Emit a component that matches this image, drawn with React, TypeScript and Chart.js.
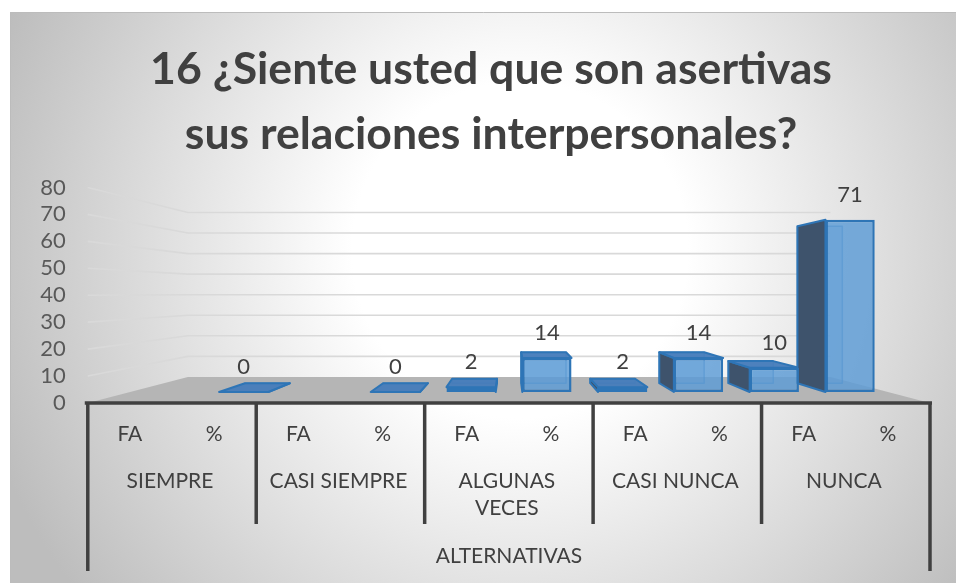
import React, { useEffect, useRef } from "react";
import { Chart, registerables } from "chart.js";

Chart.register(...registerables);

// ---------- data ----------
const TITLE_LINES = ["16 ¿Siente usted que son asertivas", "sus relaciones interpersonales?"];
const GROUP_LABELS: string[][] = [["SIEMPRE"], ["CASI SIEMPRE"], ["ALGUNAS", "VECES"], ["CASI NUNCA"], ["NUNCA"]];
const SUB_LABELS = ["FA", "%"];
const FA_VALUES: (number | null)[] = [null, null, 2, 2, 10];
const PCT_VALUES: (number | null)[] = [0, 0, 14, 14, 71];
const AXIS_TITLE = "ALTERNATIVAS";
const Y_TICKS = [0, 10, 20, 30, 40, 50, 60, 70, 80];

// ---------- layout / style ----------
const W = 956;
const H = 583;
const VX = 510; // vanishing point
const VY = 293;
const S_BAR = 0.9; // depth of bar front faces (chart area plane)
const S_BAR_BACK = 0.82; // depth of bar back faces
const S_WALL = 0.763; // depth of back wall
const FONT = "Lato, 'Open Sans', sans-serif";
const TEXT = "#404040";

function proj(x: number, y: number, s: number): [number, number] {
  const k = s / S_BAR;
  return [VX + (x - VX) * k, VY + (y - VY) * k];
}

function poly(ctx: CanvasRenderingContext2D, pts: [number, number][], fill?: string, stroke?: string, lw = 1) {
  ctx.beginPath();
  ctx.moveTo(pts[0][0], pts[0][1]);
  for (let i = 1; i < pts.length; i++) ctx.lineTo(pts[i][0], pts[i][1]);
  ctx.closePath();
  if (fill) {
    ctx.fillStyle = fill;
    ctx.fill();
  }
  if (stroke) {
    ctx.strokeStyle = stroke;
    ctx.lineWidth = lw;
    ctx.lineJoin = "round";
    ctx.stroke();
  }
}

const scene3d = {
  id: "scene3d",
  beforeDraw(chart: any) {
    const ctx: CanvasRenderingContext2D = chart.ctx;
    ctx.save();
    ctx.fillStyle = "#ffffff";
    ctx.fillRect(0, 0, W, H);
    const g = ctx.createRadialGradient(520, 250, 0, 520, 250, 560);
    g.addColorStop(0, "#ffffff");
    g.addColorStop(0.3, "#ffffff");
    g.addColorStop(1, "#bdbdbd");
    ctx.fillStyle = g;
    ctx.fillRect(10, 12, W - 10, H - 12);
    ctx.strokeStyle = "#bcbcbc";
    ctx.lineWidth = 1;
    ctx.beginPath();
    ctx.moveTo(10.5, H);
    ctx.lineTo(10.5, 12.5);
    ctx.lineTo(W, 12.5);
    ctx.stroke();

    // title, fitted to the original width
    ctx.fillStyle = TEXT;
    ctx.textAlign = "center";
    ctx.textBaseline = "middle";
    ctx.font = `bold 48px ${FONT}`;
    const w1 = ctx.measureText(TITLE_LINES[0]).width;
    const size = (48 * 682) / w1;
    ctx.font = `bold ${size.toFixed(2)}px ${FONT}`;
    ctx.fillText(TITLE_LINES[0], 491, 70);
    ctx.fillText(TITLE_LINES[1], 491, 135);
    ctx.restore();
  },
  beforeDatasetsDraw(chart: any) {
    const ctx: CanvasRenderingContext2D = chart.ctx;
    const a = chart.chartArea;
    const ys = chart.scales.y;
    const y0 = ys.getPixelForValue(0);
    ctx.save();
    // floor
    poly(ctx, [proj(a.left, y0, 1), proj(a.right, y0, 1), proj(a.right, y0, S_WALL), proj(a.left, y0, S_WALL)], "#b5b5b5");
    // grid lines: side wall + back wall
    ctx.strokeStyle = "#d9d9d9";
    ctx.lineWidth = 1.6;
    for (const v of Y_TICKS) {
      if (v === 0) continue;
      const yp = ys.getPixelForValue(v);
      const f = proj(a.left, yp, 1);
      const bl = proj(a.left, yp, S_WALL);
      const br = proj(a.right, yp, S_WALL);
      ctx.beginPath();
      ctx.moveTo(f[0], f[1]);
      ctx.lineTo(bl[0], bl[1]);
      ctx.lineTo(br[0], br[1]);
      ctx.stroke();
    }
    // 3D faces of bars
    const meta = chart.getDatasetMeta(0);
    const data = chart.data.datasets[0].data;
    meta.data.forEach((el: any, i: number) => {
      if (data[i] == null) return;
      const p = el.getProps(["x", "y", "base", "width"], true);
      const xl = p.x - p.width / 2;
      const xr = p.x + p.width / 2;
      const yt = Math.min(p.y, p.base);
      const yb = Math.max(p.y, p.base);
      const BL = proj(xl, yb, S_BAR_BACK);
      const BR = proj(xr, yb, S_BAR_BACK);
      const TL = proj(xl, yt, S_BAR_BACK);
      const TR = proj(xr, yt, S_BAR_BACK);
      // back face outline (seen through the front)
      poly(ctx, [TL, TR, BR, BL], "rgba(91,155,213,0.25)", "rgba(46,117,182,0.55)", 1.5);
      if (xl > VX) poly(ctx, [[xl, yt], [xl, yb], BL, TL], "#3e536c", "#2e75b6", 2);
      if (xr < VX) poly(ctx, [[xr, yt], [xr, yb], BR, TR], "#3e536c", "#2e75b6", 2);
      if (yt > VY) poly(ctx, [[xl, yt], [xr, yt], TR, TL], "rgba(70,124,186,0.95)", "#2e75b6", 2);
    });
    ctx.restore();
  },
  afterDatasetsDraw(chart: any) {
    const ctx: CanvasRenderingContext2D = chart.ctx;
    const a = chart.chartArea;
    const xs = chart.scales.x;
    const ys = chart.scales.y;
    const y0 = ys.getPixelForValue(0);
    ctx.save();
    ctx.textAlign = "center";
    ctx.textBaseline = "middle";
    ctx.font = `22px ${FONT}`;
    ctx.fillStyle = TEXT;

    // value labels
    const meta = chart.getDatasetMeta(0);
    const data = chart.data.datasets[0].data;
    meta.data.forEach((el: any, i: number) => {
      if (data[i] == null) return;
      const p = el.getProps(["x", "y", "base", "width"], true);
      const yt = Math.min(p.y, p.base);
      ctx.fillText(String(data[i]), p.x, yt - 25);
    });

    // y tick labels on front plane
    ctx.textAlign = "right";
    ctx.fillStyle = "#595959";
    for (const v of Y_TICKS) {
      const f = proj(a.left, ys.getPixelForValue(v), 1);
      ctx.fillText(String(v), f[0] - 22, f[1]);
    }

    // axis line and table
    const fl = proj(a.left, y0, 1);
    const fr = proj(a.right, y0, 1);
    ctx.strokeStyle = "#404040";
    ctx.lineWidth = 3.5;
    ctx.lineCap = "butt";
    ctx.beginPath();
    ctx.moveTo(fl[0] - 3, fl[1]);
    ctx.lineTo(fr[0] + 2, fr[1]);
    ctx.stroke();

    const nCat = chart.data.labels.length;
    const catW = (a.right - a.left) / nCat;
    const perGroup = SUB_LABELS.length;
    const nGroups = GROUP_LABELS.length;
    for (let g = 0; g <= nGroups; g++) {
      const xb = proj(a.left + g * perGroup * catW, y0, 1)[0];
      const bottom = g === 0 || g === nGroups ? 571 : 524;
      ctx.beginPath();
      ctx.moveTo(xb, fl[1]);
      ctx.lineTo(xb, bottom);
      ctx.stroke();
    }

    ctx.fillStyle = TEXT;
    ctx.textAlign = "center";
    ctx.font = `21px ${FONT}`;
    for (let i = 0; i < nCat; i++) {
      const cx = proj(xs.getPixelForValue(i), y0, 1)[0];
      ctx.fillText(SUB_LABELS[i % perGroup], cx, 434);
    }
    for (let g = 0; g < nGroups; g++) {
      const x1 = proj(a.left + g * perGroup * catW, y0, 1)[0];
      const x2 = proj(a.left + (g + 1) * perGroup * catW, y0, 1)[0];
      GROUP_LABELS[g].forEach((line, k) => ctx.fillText(line, (x1 + x2) / 2 - 2, 481 + k * 27));
    }
    ctx.fillText(AXIS_TITLE, (fl[0] + fr[0]) / 2, 556);
    ctx.restore();
  },
};

export default function App() {
  const ref = useRef<HTMLCanvasElement | null>(null);
  useEffect(() => {
    if (!ref.current) return;
    const labels: string[] = [];
    const values: (number | null)[] = [];
    GROUP_LABELS.forEach((gl, g) => {
      labels.push(`${gl.join(" ")} ${SUB_LABELS[0]}`);
      values.push(FA_VALUES[g]);
      labels.push(`${gl.join(" ")} ${SUB_LABELS[1]}`);
      values.push(PCT_VALUES[g]);
    });
    const chart = new Chart(ref.current, {
      type: "bar",
      data: {
        labels,
        datasets: [
          {
            data: values,
            backgroundColor: "rgba(91,155,213,0.82)",
            borderColor: "#2e75b6",
            borderWidth: 2.5,
            borderSkipped: false,
            barPercentage: 0.65,
            categoryPercentage: 1,
          } as any,
        ],
      },
      options: {
        responsive: false,
        animation: false,
        devicePixelRatio: 1,
        events: [],
        layout: { padding: { left: 130, right: 68, top: 198, bottom: 191 } },
        plugins: { legend: { display: false }, tooltip: { enabled: false }, title: { display: false } },
        scales: {
          x: { display: false, grid: { display: false } },
          y: { display: false, min: 0, max: 80, grid: { display: false } },
        },
      },
      plugins: [scene3d],
    });
    return () => chart.destroy();
  }, []);
  return (
    <div style={{ position: "absolute", left: 0, top: 0, width: W, height: H }}>
      <canvas ref={ref} width={W} height={H} style={{ display: "block", width: W, height: H }} />
    </div>
  );
}
